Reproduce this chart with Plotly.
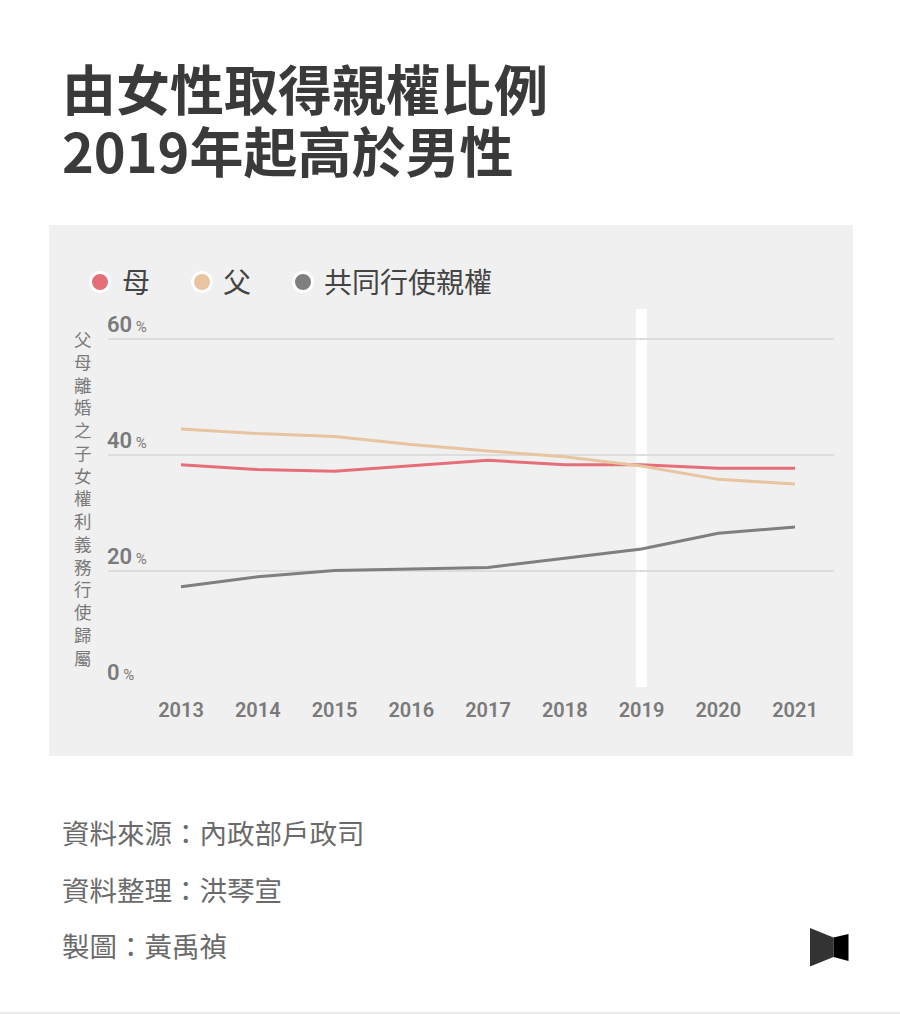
import plotly.graph_objects as go

years = [2013, 2014, 2015, 2016, 2017, 2018, 2019, 2020, 2021]
mother = [38.3, 37.5, 37.2, 38.2, 39.1, 38.3, 38.3, 37.7, 37.7]
father = [44.5, 43.7, 43.2, 41.8, 40.7, 39.7, 38.1, 35.8, 35.0]
joint = [17.3, 19.0, 20.1, 20.3, 20.6, 22.2, 23.8, 26.5, 27.6]
series_names = ["母", "父", "共同行使親權"]
series_colors = ["#E56E79", "#E8C4A0", "#7F7F7F"]
y_ticks = [0, 20, 40, 60]
highlight_year = 2019

title_lines = ["由女性取得親權比例", "2019年起高於男性"]
y_title = "父母離婚之子女權利義務行使歸屬"
footer_lines = ["資料來源：內政部戶政司", "資料整理：洪琴宣", "製圖：黃禹禎"]

W, H = 900, 1014
CJK = "Noto Sans CJK TC, Noto Sans CJK SC, sans-serif"


def px(x):
    return x / W


def py(y):
    return 1 - y / H


fig = go.Figure()
for name, vals, col in zip(series_names, [mother, father, joint], series_colors):
    fig.add_trace(go.Scatter(x=years, y=vals, mode="lines", name=name,
                             line=dict(color=col, width=3), showlegend=False,
                             hoverinfo="x+y+name"))

shapes = []
# chart background panel
shapes.append(dict(type="rect", xref="paper", yref="paper", x0=px(49), x1=px(853),
                   y0=py(225), y1=py(756), fillcolor="#F0F0F0", line=dict(width=0), layer="below"))
# highlight band
shapes.append(dict(type="rect", xref="x", yref="paper", x0=highlight_year - 0.07, x1=highlight_year + 0.07,
                   y0=py(687), y1=py(309), fillcolor="#FFFFFF", line=dict(width=0), layer="between"))
# bottom rule
shapes.append(dict(type="rect", xref="paper", yref="paper", x0=0, x1=1,
                   y0=py(1014), y1=py(1012), fillcolor="#EBEBEB", line=dict(width=0), layer="below"))


def path(points):
    return "M " + " L ".join(f"{px(a)},{py(b)}" for a, b in points) + " Z"


shapes.append(dict(type="path", xref="paper", yref="paper",
                   path=path([(810, 928), (833.5, 937.5), (833.5, 957), (810, 966.5)]),
                   fillcolor="#333333", line=dict(width=0)))
shapes.append(dict(type="path", xref="paper", yref="paper",
                   path=path([(833.5, 937.5), (848.5, 934), (848.5, 961), (833.5, 957)]),
                   fillcolor="#000000", line=dict(width=0)))

# legend circles
legend_x = [100, 202, 303]
legend_text_x = [123, 224, 325]
for cx, col in zip(legend_x, series_colors):
    shapes.append(dict(type="circle", xref="paper", yref="paper",
                       x0=px(cx - 9.5), x1=px(cx + 9.5), y0=py(282 + 9.5), y1=py(282 - 9.5),
                       fillcolor=col, line=dict(color="#FFFFFF", width=3)))

annotations = []
# title: one text block; base font sets the 62px line pitch, spans set glyph size
title_text = "<br>".join(f"<span style='font-size:54px'><b>{l}</b></span>" for l in title_lines)
annotations.append(dict(text=title_text, xref="paper", yref="paper", x=px(60), y=py(118),
                        xanchor="left", yanchor="middle", showarrow=False, align="left",
                        font=dict(family=CJK, size=62 / 1.3, color="#3A3A3A")))
# legend text
for tx, name in zip(legend_text_x, series_names):
    annotations.append(dict(text=name, xref="paper", yref="paper", x=px(tx - 3), y=py(281),
                            xanchor="left", yanchor="middle", showarrow=False,
                            font=dict(family=CJK, size=28, color="#444444")))
# y tick labels
for t in y_ticks:
    annotations.append(dict(text=f"{t}<span style='font-size:15px;font-weight:normal'> %</span>",
                            xref="paper", yref="y", x=px(105), y=t, xanchor="left", yanchor="bottom",
                            showarrow=False,
                            font=dict(family="Roboto, sans-serif", size=22, color="#7A7A7A", weight=600)))
# vertical y title
annotations.append(dict(text="<br>".join(list(y_title)), xref="paper", yref="paper", x=px(83), y=py(498),
                        xanchor="center", yanchor="middle", showarrow=False, align="center",
                        font=dict(family=CJK, size=17.5, color="#7A7A7A")))
# footer
for i, line in enumerate(footer_lines):
    annotations.append(dict(text=line, xref="paper", yref="paper", x=px(60), y=py(832 + 56.5 * i),
                            xanchor="left", yanchor="middle", showarrow=False,
                            font=dict(family=CJK, size=27.5, color="#6A6A6A")))

fig.update_layout(
    width=W, height=H,
    margin=dict(l=0, r=0, t=0, b=0),
    paper_bgcolor="#FFFFFF",
    plot_bgcolor="rgba(0,0,0,0)",
    shapes=shapes,
    annotations=annotations,
    showlegend=False,
    xaxis=dict(domain=[px(108), px(834)], range=[2012.049, 2021.508],
               tickvals=years, ticktext=[str(y) for y in years],
               showgrid=False, zeroline=False, showline=False,
               ticks="outside", ticklen=5, tickcolor="rgba(0,0,0,0)",
               tickfont=dict(family="Roboto, sans-serif", size=20, color="#7A7A7A", weight=600)),
    yaxis=dict(domain=[py(687), py(309)], range=[0, (687 - 309) / 5.8],
               tickvals=y_ticks, showticklabels=False,
               showgrid=True, gridcolor="#DDDDDD", gridwidth=2, zeroline=False, showline=False),
)

fig.write_html("out.html")
